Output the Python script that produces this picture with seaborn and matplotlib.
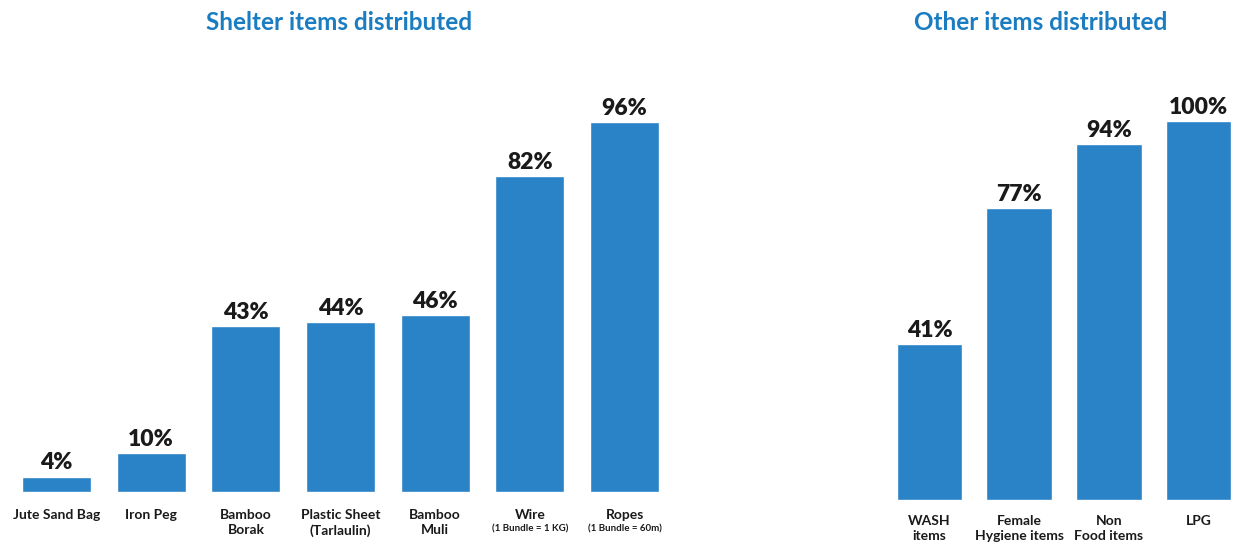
import matplotlib
matplotlib.use("Agg")
import matplotlib.pyplot as plt
import matplotlib.transforms as mtransforms
import seaborn as sns
import pandas as pd

# Distribution coverage (% of households)
shelter_items = ["Jute Sand Bag", "Iron Peg", "Bamboo\nBorak", "Plastic Sheet\n(Tarlaulin)",
                 "Bamboo\nMuli", "Wire", "Ropes"]
shelter_pct = [4, 10, 43, 44, 46, 82, 96]
shelter_notes = ["", "", "", "", "", "(1 Bundle = 1 KG)", "(1 Bundle = 60m)"]

other_items = ["WASH\nitems", "Female\nHygiene items", "Non\nFood items", "LPG"]
other_pct = [41, 77, 94, 100]

bar_color = "#2A82C7"
title_color = "#1A7CC1"
text_color = "#1A1A1A"

sns.set_theme(style="white")
plt.rcParams["font.family"] = ["Lato", "DejaVu Sans"]

W, H = 1242, 543
fig = plt.figure(figsize=(W / 100, H / 100), dpi=100)


def px_axes(left, bottom, width, height):
    return fig.add_axes([left / W, bottom / H, width / W, height / H])


def draw_panel(ax, items, values, ylim_top, notes=None, tick_pad=6):
    df = pd.DataFrame({"item": items, "pct": values})
    sns.barplot(data=df, x="item", y="pct", color=bar_color, saturation=1,
                width=0.73, ax=ax)
    ax.set_ylim(0, ylim_top)
    ax.set_xlim(-0.5, len(items) - 0.5)
    ax.set_xlabel("")
    ax.set_ylabel("")
    ax.set_yticks([])
    for s in ax.spines.values():
        s.set_visible(False)
    ax.tick_params(axis="x", length=0, pad=tick_pad)
    ax.set_xticks(range(len(items)))
    ax.set_xticklabels(items, fontsize=10, fontweight="bold", color=text_color,
                       linespacing=1.3)
    for i, v in enumerate(values):
        ax.text(i, v + 0.8, f"{v}%", ha="center", va="bottom",
                fontsize=16.5, fontweight="heavy", color=text_color)
    if notes:
        trans = mtransforms.blended_transform_factory(ax.transData, ax.transAxes)
        for i, n in enumerate(notes):
            if n:
                ax.text(i, -0.077, n, transform=trans, ha="center", va="top",
                        fontsize=7, fontweight="bold", color=text_color)


# Shelter items panel
ax1 = px_axes(9.2, 51, 662.7, 424)
draw_panel(ax1, shelter_items, shelter_pct, 110, shelter_notes, tick_pad=12)

# Other items panel
ax2 = px_axes(884.7, 43.5, 358.7, 416)
draw_panel(ax2, other_items, other_pct, 110, tick_pad=11)

fig.text(339 / W, 1 - 23 / H, "Shelter items distributed", ha="center", va="center",
         fontsize=17.5, fontweight="bold", color=title_color)
fig.text(1041 / W, 1 - 23 / H, "Other items distributed", ha="center", va="center",
         fontsize=17.5, fontweight="bold", color=title_color)

fig.savefig("out.png", dpi=100, facecolor="white")
